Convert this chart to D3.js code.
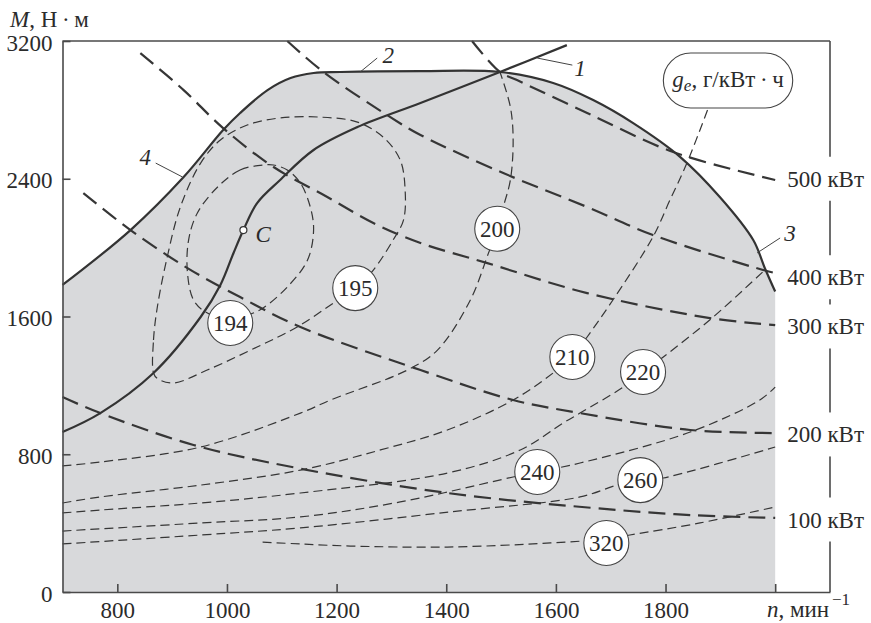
<!DOCTYPE html>
<html>
<head>
<meta charset="utf-8">
<script src="https://cdn.jsdelivr.net/npm/d3@7"></script>
<style>
  body { margin: 0; background: #fff; }
  svg { display: block; }
  text { font-family: "Liberation Serif", "Times New Roman", "DejaVu Serif", serif; fill: #2b2b2b; }
</style>
</head>
<body>
<div id="chart"></div>
<script>
// engine map: n (min^-1), M (N·m)
const envelope = [[700,1783],[824,2102],[921,2410],[993,2683],[1024,2782],[1074,2915],[1116,2985],[1158,3014],[1207,3020],[1353,3025],[1498,3020],[1595,2956],[1668,2857],[1741,2723],[1827,2526],[1899,2294],[1960,2044],[1981,1882],[2000,1745]];
const curve1 = [[700,929],[769,1039],[866,1272],[952,1597],[988,1783],[1012,1969],[1030,2102],[1055,2259],[1097,2393],[1158,2567],[1238,2700],[1353,2840],[1498,3020],[1620,3176]];
const pointC = [1030, 2102];

// constant power lines
const p500 = [[1447,3200],[1498,3020],[1529,2973],[1657,2782],[1814,2555],[2000,2393]];
const p400 = [[1110,3200],[1176,3020],[1298,2758],[1353,2654],[1504,2433],[1657,2236],[1777,2073],[1978,1870],[2000,1852]];
const p300 = [[842,3130],[921,2915],[993,2694],[1085,2468],[1183,2294],[1267,2143],[1353,2027],[1475,1910],[1657,1736],[1881,1591],[2000,1550]];
const p200 = [[738,2317],[824,2102],[928,1881],[1024,1713],[1134,1539],[1353,1289],[1522,1115],[1644,1039],[1845,941],[2000,923]];
const p100 = [[700,1132],[769,1039],[939,854],[1128,720],[1402,575],[1668,488],[1845,447],[2000,430]];
const powerLines = [p500, p400, p300, p200, p100];
const powerLabels = ["500 кВт", "400 кВт", "300 кВт", "200 кВт", "100 кВт"];
const powerLabelM = [2400, 1828, 1542, 915, 421];

// specific fuel consumption contours, g/kWh
const ge194 = [[1066,2480],[1024,2451],[983,2352],[946,2201],[930,2044],[928,1852],[939,1696],[961,1626],[1006,1580],[1048,1620],[1066,1649],[1110,1771],[1147,1928],[1158,2102],[1152,2236],[1134,2375],[1110,2451],[1085,2480]];
const ge195 = [[866,1272],[866,1463],[873,1655],[891,1945],[915,2236],[952,2491],[988,2625],[1037,2712],[1097,2753],[1170,2758],[1238,2729],[1285,2642],[1316,2509],[1325,2334],[1322,2160],[1303,2044],[1267,1870],[1234,1765],[1194,1678],[1128,1539],[1055,1423],[964,1289],[902,1214],[873,1240]];
const ge200 = [[700,732],[769,755],[952,842],[1134,1039],[1189,1115],[1329,1289],[1384,1405],[1444,1696],[1477,1968],[1493,2102],[1504,2236],[1517,2393],[1522,2625],[1517,2816],[1498,3020]];
const ge210 = [[700,517],[769,552],[952,621],[1134,708],[1280,825],[1402,941],[1522,1115],[1595,1272],[1630,1365],[1657,1481],[1704,1696],[1777,2062],[1808,2276],[1839,2491],[1878,2811]];
const ge220 = [[700,459],[769,476],[952,517],[1134,575],[1402,691],[1535,825],[1613,981],[1644,1039],[1723,1190],[1759,1278],[1796,1365],[1887,1597],[1981,1870]];
const ge240 = [[700,354],[952,401],[1134,436],[1316,523],[1522,668],[1566,697],[1644,749],[1845,929],[1972,1115],[2000,1190]];
const ge260 = [[700,279],[952,331],[1134,372],[1407,465],[1644,552],[1712,621],[1754,645],[1796,662],[2000,842]];
const ge320 = [[1065,290],[1134,279],[1225,267],[1402,261],[1590,285],[1692,308],[1735,331],[1863,401],[2000,494]];
const geLoops = [ge194, ge195];
const geOpen = [ge200, ge210, ge220, ge240, ge260, ge320];

const geLabels = ["194", "195", "200", "210", "220", "240", "260", "320"];
const geLabelN = [1006, 1234, 1493, 1630, 1759, 1566, 1754, 1692];
const geLabelM = [1562, 1765, 2110, 1365, 1278, 697, 650, 285];

// curve numbers with leaders
const curveNums = ["1", "2", "3", "4"];
const numAt = [[1644,3043],[1294,3118],[2027,2085],[851,2526]];
const leadFrom = [[1630,3060],[1274,3101],[2009,2056],[870,2491]];
const leadTo = [[1566,3101],[1243,3020],[1967,1969],[919,2410]];

const xTicks = [800, 1000, 1200, 1400, 1600, 1800, 2000];
const yTicks = [0, 800, 1600, 2400, 3200];

const W = 871, H = 623;
const ink = "#363636";

const x = d3.scaleLinear().domain([700, 2100]).range([62.5, 830]);
const y = d3.scaleLinear().domain([0, 3200]).range([592, 41]);

const svg = d3.select("#chart").append("svg")
    .attr("width", W)
    .attr("height", H);

const line = d3.line()
    .x(d => x(d[0]))
    .y(d => y(d[1]))
    .curve(d3.curveCatmullRom.alpha(0.5));

const loop = d3.line()
    .x(d => x(d[0]))
    .y(d => y(d[1]))
    .curve(d3.curveCatmullRomClosed.alpha(0.5));

// gray operating field
svg.append("path")
    .datum(envelope)
    .attr("d", d3.area()
        .x(d => x(d[0]))
        .y0(y(0))
        .y1(d => y(d[1]))
        .curve(d3.curveCatmullRom.alpha(0.5)))
    .attr("fill", "#d8d9db");

// ge contours
svg.selectAll(".ge-loop")
    .data(geLoops)
    .enter()
    .append("path")
    .attr("class", "ge-loop")
    .attr("d", loop)
    .attr("fill", "none")
    .attr("stroke", ink)
    .attr("stroke-width", 1.2)
    .attr("stroke-dasharray", "9,5");

svg.selectAll(".ge-open")
    .data(geOpen)
    .enter()
    .append("path")
    .attr("class", "ge-open")
    .attr("d", line)
    .attr("fill", "none")
    .attr("stroke", ink)
    .attr("stroke-width", 1.2)
    .attr("stroke-dasharray", "9,5");

// power lines
svg.selectAll(".power")
    .data(powerLines)
    .enter()
    .append("path")
    .attr("class", "power")
    .attr("d", line)
    .attr("fill", "none")
    .attr("stroke", ink)
    .attr("stroke-width", 2.2)
    .attr("stroke-dasharray", "17,8");

// solid curves
[envelope, curve1].forEach(c => {
    svg.append("path")
        .datum(c)
        .attr("d", line)
        .attr("fill", "none")
        .attr("stroke", "#333")
        .attr("stroke-width", 2.2);
});

// axes
const gy = svg.append("g")
    .attr("transform", `translate(${x(700)},0)`)
    .call(d3.axisLeft(y).tickValues(yTicks).tickSize(-8).tickSizeOuter(0).tickPadding(10)
        .tickFormat(d3.format("d")));
const gx = svg.append("g")
    .attr("transform", `translate(0,${y(0)})`)
    .call(d3.axisBottom(x).tickValues(xTicks).tickSize(-8).tickSizeOuter(0).tickPadding(10)
        .tickFormat(d => d === 2000 ? "" : d3.format("d")(d)));
[gx, gy].forEach(g => {
    g.selectAll("path, line").attr("stroke", "#4a4a4a").attr("stroke-width", 1.6);
    g.selectAll("text")
        .attr("font-family", "Liberation Serif, Times New Roman, serif")
        .attr("font-size", 23)
        .attr("fill", "#2b2b2b");
});
gy.selectAll("text").attr("dy", "0.4em");

// frame top and right
svg.append("line")
    .attr("x1", x(700)).attr("x2", x(2100))
    .attr("y1", y(3200)).attr("y2", y(3200))
    .attr("stroke", "#4a4a4a").attr("stroke-width", 1.6);
svg.append("line")
    .attr("x1", x(2100)).attr("x2", x(2100))
    .attr("y1", y(3200)).attr("y2", y(0))
    .attr("stroke", "#4a4a4a").attr("stroke-width", 1.6);

// power labels on the right, masking the frame
const pl = svg.selectAll(".plabel")
    .data(powerLabels)
    .enter()
    .append("g")
    .attr("class", "plabel")
    .attr("transform", (d, i) => `translate(${x(2000) + 12},${y(powerLabelM[i])})`);
pl.append("rect")
    .attr("x", -4).attr("y", -22)
    .attr("width", 90).attr("height", 44)
    .attr("fill", "#fff");
pl.append("text")
    .attr("y", 8)
    .attr("font-size", 23)
    .text(d => d);

// leaders and curve numbers
svg.selectAll(".leader")
    .data(curveNums)
    .enter()
    .append("line")
    .attr("x1", (d, i) => x(leadFrom[i][0]))
    .attr("y1", (d, i) => y(leadFrom[i][1]))
    .attr("x2", (d, i) => x(leadTo[i][0]))
    .attr("y2", (d, i) => y(leadTo[i][1]))
    .attr("stroke", "#444")
    .attr("stroke-width", 1);
svg.selectAll(".cnum")
    .data(curveNums)
    .enter()
    .append("text")
    .attr("x", (d, i) => x(numAt[i][0]))
    .attr("y", (d, i) => y(numAt[i][1]) + 8)
    .attr("text-anchor", "middle")
    .attr("font-size", 23)
    .attr("font-style", "italic")
    .text(d => d);

// point C
svg.append("circle")
    .attr("cx", x(pointC[0])).attr("cy", y(pointC[1]))
    .attr("r", 3.5)
    .attr("fill", "#fff")
    .attr("stroke", "#333")
    .attr("stroke-width", 1.2);
svg.append("text")
    .attr("x", x(pointC[0]) + 12)
    .attr("y", y(pointC[1]) + 12)
    .attr("font-size", 23)
    .attr("font-style", "italic")
    .text("C");

// ge value bubbles
const gl = svg.selectAll(".glabel")
    .data(geLabels)
    .enter()
    .append("g")
    .attr("class", "glabel")
    .attr("transform", (d, i) => `translate(${x(geLabelN[i])},${y(geLabelM[i])})`);
gl.append("circle")
    .attr("r", 22.5)
    .attr("fill", "#fff")
    .attr("stroke", "#444")
    .attr("stroke-width", 1.1);
gl.append("text")
    .attr("y", 8)
    .attr("text-anchor", "middle")
    .attr("font-size", 23)
    .text(d => d);

// ge legend box
const bx0 = x(1796), bx1 = x(2032), by0 = y(3130), by1 = y(2811);
svg.append("rect")
    .attr("x", bx0).attr("y", by0)
    .attr("width", bx1 - bx0).attr("height", by1 - by0)
    .attr("rx", (by1 - by0) / 2)
    .attr("fill", "#fff")
    .attr("stroke", "#444")
    .attr("stroke-width", 1.1);
const bt = svg.append("text")
    .attr("x", (bx0 + bx1) / 2)
    .attr("y", (by0 + by1) / 2 + 6)
    .attr("text-anchor", "middle")
    .attr("font-size", 23);
bt.append("tspan").attr("font-style", "italic").text("g");
bt.append("tspan").attr("font-style", "italic").attr("font-size", 17).attr("dy", 4).text("e");
bt.append("tspan").attr("dy", -4).text(", г/кВт\u2009·\u2009ч");

// axis titles
const ty = svg.append("text")
    .attr("x", 10).attr("y", 27)
    .attr("font-size", 23);
ty.append("tspan").attr("font-style", "italic").text("M");
ty.append("tspan").text(", Н\u2009·\u2009м");

const tx = svg.append("text")
    .attr("x", 767).attr("y", 617)
    .attr("font-size", 23);
tx.append("tspan").attr("font-style", "italic").text("n");
tx.append("tspan").text(", мин");
svg.append("text")
    .attr("x", 832).attr("y", 605)
    .attr("font-size", 17)
    .text("\u22121");
</script>
</body>
</html>
